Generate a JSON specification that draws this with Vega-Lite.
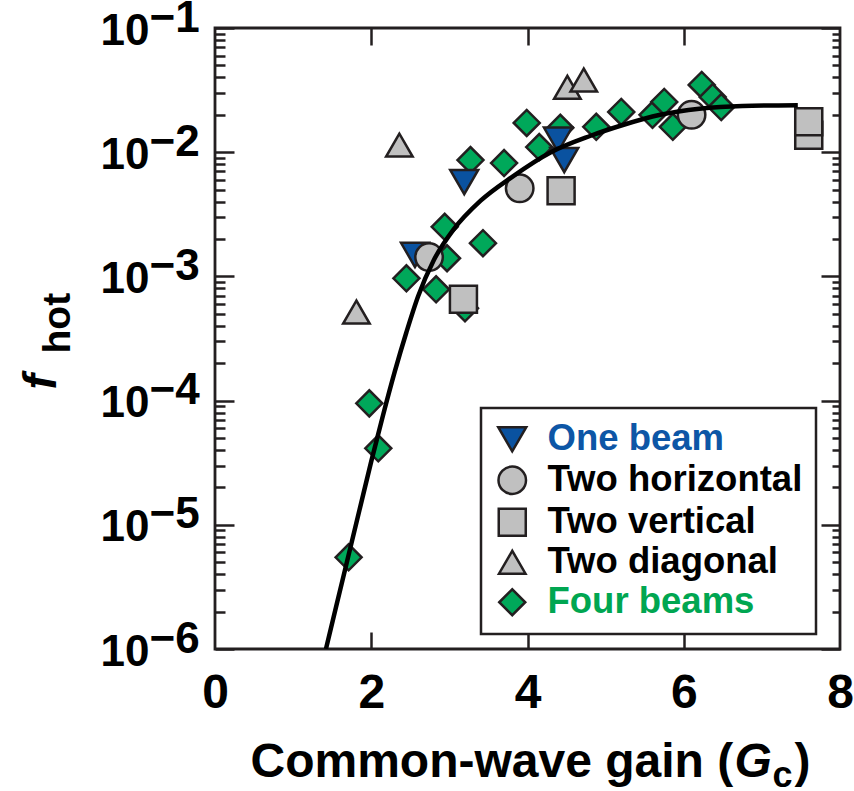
{
  "$schema": "https://vega.github.io/schema/vega-lite/v6.json",
  "width": 625,
  "height": 621,
  "autosize": {"type": "none"},
  "padding": {"left": 215, "top": 28, "right": 14, "bottom": 142},
  "background": "white",
  "config": {
    "font": "Liberation Sans",
    "view": {"stroke": "#231f20", "strokeWidth": 2.8},
    "axis": {
      "grid": false,
      "domain": false,
      "labelFont": "Liberation Sans",
      "titleFont": "Liberation Sans",
      "labelColor": "#000000",
      "titleColor": "#000000",
      "labelFontWeight": "bold",
      "titleFontWeight": "bold",
      "tickColor": "#231f20",
      "tickWidth": 2.5,
      "labelOverlap": false,
      "labelBound": false,
      "labelFlush": false
    }
  },
  "datasets": {
    "points": [
      {"series": "Four beams", "gc": 1.71, "fhot": 5.47e-6},
      {"series": "Four beams", "gc": 1.975, "fhot": 9.5e-5},
      {"series": "Four beams", "gc": 2.09, "fhot": 4.13e-5},
      {"series": "Four beams", "gc": 2.45, "fhot": 9.66e-4},
      {"series": "Four beams", "gc": 2.83, "fhot": 7.87e-4},
      {"series": "Four beams", "gc": 2.94, "fhot": 2.51e-3},
      {"series": "Four beams", "gc": 2.97, "fhot": 1.40e-3},
      {"series": "Four beams", "gc": 3.20, "fhot": 5.53e-4},
      {"series": "Four beams", "gc": 3.43, "fhot": 1.85e-3},
      {"series": "Four beams", "gc": 3.27, "fhot": 8.65e-3},
      {"series": "Four beams", "gc": 3.70, "fhot": 8.18e-3},
      {"series": "Four beams", "gc": 3.99, "fhot": 1.72e-2},
      {"series": "Four beams", "gc": 4.15, "fhot": 1.10e-2},
      {"series": "Four beams", "gc": 4.42, "fhot": 1.57e-2},
      {"series": "Four beams", "gc": 4.88, "fhot": 1.60e-2},
      {"series": "Four beams", "gc": 5.20, "fhot": 2.11e-2},
      {"series": "Four beams", "gc": 5.60, "fhot": 2.00e-2},
      {"series": "Four beams", "gc": 5.75, "fhot": 2.54e-2},
      {"series": "Four beams", "gc": 5.86, "fhot": 1.60e-2},
      {"series": "Four beams", "gc": 6.23, "fhot": 3.48e-2},
      {"series": "Four beams", "gc": 6.37, "fhot": 2.78e-2},
      {"series": "Four beams", "gc": 6.48, "fhot": 2.31e-2},
      {"series": "One beam", "gc": 2.56, "fhot": 1.49e-3},
      {"series": "One beam", "gc": 3.19, "fhot": 5.75e-3},
      {"series": "One beam", "gc": 4.39, "fhot": 1.26e-2},
      {"series": "One beam", "gc": 4.47, "fhot": 8.65e-3},
      {"series": "Two horizontal", "gc": 2.74, "fhot": 1.43e-3},
      {"series": "Two horizontal", "gc": 3.90, "fhot": 5.12e-3},
      {"series": "Two horizontal", "gc": 6.10, "fhot": 2.00e-2},
      {"series": "Two vertical", "gc": 3.18, "fhot": 6.55e-4},
      {"series": "Two vertical", "gc": 4.43, "fhot": 4.90e-3},
      {"series": "Two vertical", "gc": 7.60, "fhot": 1.37e-2},
      {"series": "Two vertical", "gc": 7.60, "fhot": 1.76e-2},
      {"series": "Two diagonal", "gc": 1.81, "fhot": 5.16e-4},
      {"series": "Two diagonal", "gc": 2.36, "fhot": 1.14e-2},
      {"series": "Two diagonal", "gc": 4.51, "fhot": 3.33e-2},
      {"series": "Two diagonal", "gc": 4.72, "fhot": 3.81e-2}
    ],
    "fit": [
      {"gc": 1.42, "fhot": 1.0e-6},
      {"gc": 1.55, "fhot": 2.19e-6},
      {"gc": 1.70, "fhot": 5.37e-6},
      {"gc": 1.85, "fhot": 1.32e-5},
      {"gc": 2.00, "fhot": 3.24e-5},
      {"gc": 2.15, "fhot": 7.59e-5},
      {"gc": 2.30, "fhot": 1.70e-4},
      {"gc": 2.45, "fhot": 3.55e-4},
      {"gc": 2.60, "fhot": 6.92e-4},
      {"gc": 2.80, "fhot": 1.35e-3},
      {"gc": 3.05, "fhot": 2.37e-3},
      {"gc": 3.40, "fhot": 4.07e-3},
      {"gc": 3.80, "fhot": 6.31e-3},
      {"gc": 4.30, "fhot": 1.00e-2},
      {"gc": 4.80, "fhot": 1.35e-2},
      {"gc": 5.20, "fhot": 1.64e-2},
      {"gc": 5.70, "fhot": 2.00e-2},
      {"gc": 6.20, "fhot": 2.24e-2},
      {"gc": 6.75, "fhot": 2.36e-2},
      {"gc": 7.46, "fhot": 2.39e-2}
    ]
  },
  "resolve": {"axis": {"x": "independent", "y": "independent"}},
  "layer": [
    {
      "data": {"name": "points"},
      "mark": {"type": "point", "filled": true, "opacity": 1, "stroke": "#231f20", "strokeWidth": 2.5},
      "encoding": {
        "x": {
          "field": "gc", "type": "quantitative",
          "scale": {"domain": [0, 8], "nice": false, "zero": false},
          "axis": {
            "orient": "bottom", "values": [0, 2, 4, 6, 8], "ticks": false,
            "labelFontSize": 48, "labelBaseline": "alphabetic", "labelAlign": "center", "labelPadding": 58,
            "title": "Common-wave gain (", "titleFontSize": 48, "titleX": 35, "titleY": 127,
            "titleAlign": "left", "titleBaseline": "alphabetic", "titleAngle": 0
          }
        },
        "y": {
          "field": "fhot", "type": "quantitative",
          "scale": {"type": "log", "domain": [1e-6, 0.1], "nice": false},
          "axis": {
            "orient": "left", "values": [1e-6, 1e-5, 1e-4, 1e-3, 1e-2, 1e-1], "ticks": false,
            "labelExpr": "'10'", "labelFontSize": 44, "labelAlign": "right", "labelBaseline": "alphabetic",
            "labelPadding": 66, "labelOffset": 16,
            "title": "f", "titleFontStyle": "italic", "titleFontSize": 46, "titleAngle": -90,
            "titleX": -160, "titleY": 361, "titleAlign": "left", "titleBaseline": "alphabetic"
          }
        },
        "color": {
          "field": "series", "type": "nominal",
          "scale": {
            "domain": ["One beam", "Two horizontal", "Two vertical", "Two diagonal", "Four beams"],
            "range": ["#0a52a0", "#c0c0c0", "#c0c0c0", "#c0c0c0", "#00a85a"]
          },
          "legend": {
            "orient": "none", "legendX": 266, "legendY": 380, "title": null,
            "padding": 13, "strokeColor": "#231f20", "fillColor": "white",
            "labelFont": "Liberation Sans", "labelFontSize": 36.5, "labelFontWeight": "bold",
            "labelOffset": 17, "labelLimit": 400, "rowPadding": 3,
            "symbolStrokeColor": "#231f20", "symbolStrokeWidth": 2.5, "symbolOpacity": 1,
            "encode": {
              "legend": {"update": {"strokeWidth": {"value": 2.5}}},
              "symbols": {
                "update": {
                  "size": {"signal": "datum.value === 'Four beams' ? 961 : datum.value === 'Two vertical' ? 576 : datum.value === 'Two horizontal' ? 676 : 784"}
                }
              },
              "labels": {
                "update": {
                  "fill": {"signal": "datum.value === 'One beam' ? '#0d56a6' : datum.value === 'Four beams' ? '#00a651' : '#000000'"}
                }
              }
            }
          }
        },
        "shape": {
          "field": "series", "type": "nominal",
          "scale": {
            "domain": ["One beam", "Two horizontal", "Two vertical", "Two diagonal", "Four beams"],
            "range": ["triangle-down", "circle", "square", "triangle-up", "diamond"]
          }
        },
        "size": {
          "field": "series", "type": "nominal",
          "scale": {
            "domain": ["One beam", "Two horizontal", "Two vertical", "Two diagonal", "Four beams"],
            "range": [784, 676, 576, 784, 961]
          }
        }
      }
    },
    {
      "data": {"name": "fit"},
      "mark": {"type": "line", "color": "#000000", "strokeWidth": 4.5, "clip": true, "interpolate": "monotone"},
      "encoding": {
        "x": {
          "field": "gc", "type": "quantitative",
          "scale": {"domain": [0, 8], "nice": false, "zero": false},
          "axis": {
            "orient": "bottom", "values": [2, 4, 6], "labels": false, "tickSize": -17,
            "title": "G", "titleFontSize": 48, "titleFontStyle": "italic", "titleX": 519, "titleY": 127,
            "titleAlign": "left", "titleBaseline": "alphabetic", "titleAngle": 0
          }
        },
        "y": {
          "field": "fhot", "type": "quantitative",
          "scale": {"type": "log", "domain": [1e-6, 0.1], "nice": false},
          "axis": {
            "orient": "left", "values": [1e-6, 1e-5, 1e-4, 1e-3, 1e-2, 1e-1], "ticks": false,
            "labelExpr": "'−' + round(-log(datum.value) / LN10)", "labelFontSize": 44,
            "labelAlign": "left", "labelBaseline": "alphabetic", "labelPadding": 66, "labelOffset": 3,
            "title": "hot", "titleFontSize": 39, "titleAngle": -90,
            "titleX": -146, "titleY": 325, "titleAlign": "left", "titleBaseline": "alphabetic"
          }
        }
      }
    },
    {
      "data": {"name": "fit"},
      "mark": {"type": "line", "opacity": 0},
      "encoding": {
        "x": {
          "field": "gc", "type": "quantitative",
          "scale": {"domain": [0, 8], "nice": false, "zero": false},
          "axis": {
            "orient": "top", "values": [2, 4, 6], "labels": false, "tickSize": -17,
            "title": "c", "titleFontSize": 36, "titleX": 557, "titleY": 758,
            "titleAlign": "left", "titleBaseline": "alphabetic", "titleAngle": 0
          }
        },
        "y": {
          "field": "fhot", "type": "quantitative",
          "scale": {"type": "log", "domain": [1e-6, 0.1], "nice": false},
          "axis": {
            "orient": "left", "values": [1e-6, 1e-5, 1e-4, 1e-3, 1e-2, 1e-1],
            "labels": false, "tickSize": -19, "title": null
          }
        }
      }
    },
    {
      "data": {"name": "fit"},
      "mark": {"type": "line", "opacity": 0},
      "encoding": {
        "x": {
          "field": "gc", "type": "quantitative",
          "scale": {"domain": [0, 8], "nice": false, "zero": false},
          "axis": {
            "orient": "bottom", "values": [2, 4, 6], "labels": false, "ticks": false,
            "title": ")", "titleFontSize": 48, "titleX": 579, "titleY": 127,
            "titleAlign": "left", "titleBaseline": "alphabetic", "titleAngle": 0
          }
        },
        "y": {
          "field": "fhot", "type": "quantitative",
          "scale": {"type": "log", "domain": [1e-6, 0.1], "nice": false},
          "axis": {
            "orient": "left",
            "values": [2e-6, 3e-6, 4e-6, 5e-6, 6e-6, 7e-6, 8e-6, 9e-6,
                       2e-5, 3e-5, 4e-5, 5e-5, 6e-5, 7e-5, 8e-5, 9e-5,
                       2e-4, 3e-4, 4e-4, 5e-4, 6e-4, 7e-4, 8e-4, 9e-4,
                       2e-3, 3e-3, 4e-3, 5e-3, 6e-3, 7e-3, 8e-3, 9e-3,
                       2e-2, 3e-2, 4e-2, 5e-2, 6e-2, 7e-2, 8e-2, 9e-2],
            "labels": false, "tickSize": -10, "title": null
          }
        }
      }
    },
    {
      "data": {"name": "fit"},
      "mark": {"type": "line", "opacity": 0},
      "encoding": {
        "x": {
          "field": "gc", "type": "quantitative",
          "scale": {"domain": [0, 8], "nice": false, "zero": false},
          "axis": null
        },
        "y": {
          "field": "fhot", "type": "quantitative",
          "scale": {"type": "log", "domain": [1e-6, 0.1], "nice": false},
          "axis": {
            "orient": "right", "values": [1e-6, 1e-5, 1e-4, 1e-3, 1e-2, 1e-1],
            "labels": false, "tickSize": -19, "title": null
          }
        }
      }
    },
    {
      "data": {"name": "fit"},
      "mark": {"type": "line", "opacity": 0},
      "encoding": {
        "x": {
          "field": "gc", "type": "quantitative",
          "scale": {"domain": [0, 8], "nice": false, "zero": false},
          "axis": null
        },
        "y": {
          "field": "fhot", "type": "quantitative",
          "scale": {"type": "log", "domain": [1e-6, 0.1], "nice": false},
          "axis": {
            "orient": "right",
            "values": [2e-6, 3e-6, 4e-6, 5e-6, 6e-6, 7e-6, 8e-6, 9e-6,
                       2e-5, 3e-5, 4e-5, 5e-5, 6e-5, 7e-5, 8e-5, 9e-5,
                       2e-4, 3e-4, 4e-4, 5e-4, 6e-4, 7e-4, 8e-4, 9e-4,
                       2e-3, 3e-3, 4e-3, 5e-3, 6e-3, 7e-3, 8e-3, 9e-3,
                       2e-2, 3e-2, 4e-2, 5e-2, 6e-2, 7e-2, 8e-2, 9e-2],
            "labels": false, "tickSize": -8, "title": null
          }
        }
      }
    }
  ]
}
